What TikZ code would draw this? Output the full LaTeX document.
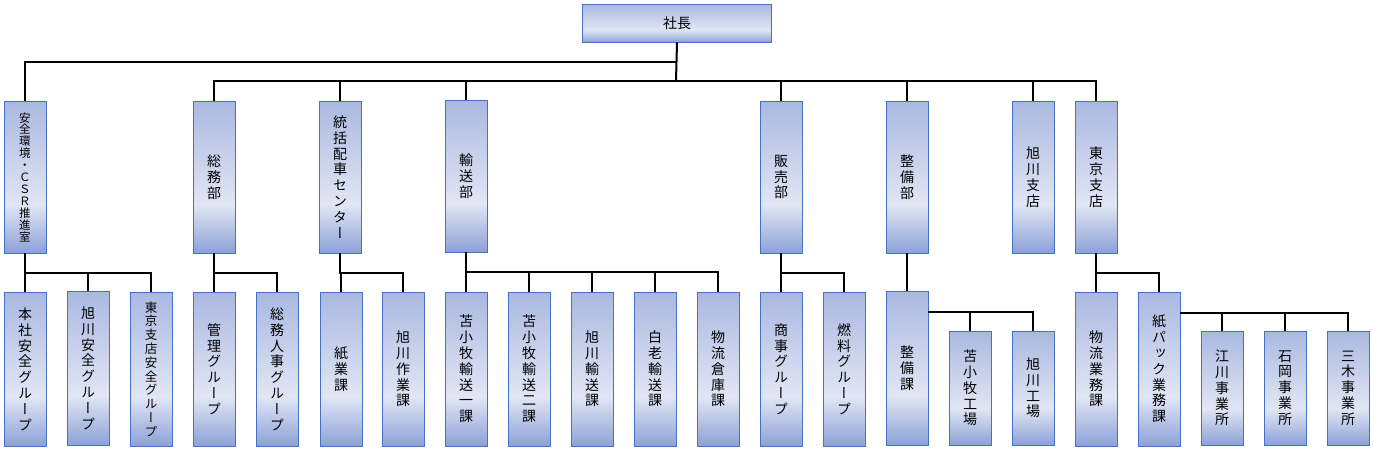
\documentclass[tikz,border=0pt]{standalone}
\usepackage{fontspec}
\newfontfamily\jp[RawFeature=+vert]{Noto Sans CJK JP}
\usetikzlibrary{calc}
\definecolor{bd}{HTML}{4472C4}
\definecolor{gtop}{HTML}{AAB8E1}
\definecolor{glight}{HTML}{E1E6F4}
\definecolor{gbot}{HTML}{8DA1D7}
\pgfdeclareverticalshading{boxfill}{100bp}{color(0bp)=(gbot); color(25bp)=(gbot); color(41bp)=(glight); color(75bp)=(gtop); color(100bp)=(gtop)}

\begin{document}
\begin{tikzpicture}
[x=1pt,y=-1pt,
b/.style={draw=bd,line width=0.9pt,shading=boxfill,inner sep=0pt,minimum width=42pt,align=center,font=\jp\fontsize{14}{15.8}\selectfont},
t/.style={b,minimum height=152pt},
u/.style={b,minimum height=154pt},
s/.style={b,minimum height=114pt},
l/.style={line width=2pt}]
\useasboundingbox (0,0) rectangle (1373,450);
% top
\node[b,minimum width=189pt,minimum height=38pt] (pres) at (677,23) {社長};
\coordinate (j1) at (676,62);
\coordinate (j2) at (676,81);
% first level
\node[t,font=\jp\fontsize{11.5}{11.9}\selectfont] (saf) at (25,177) {安\\全\\環\\境\\・\\Ｃ\\Ｓ\\Ｒ\\推\\進\\室};
\node[t] (soumu) at (214,177) {総\\務\\部};
\node[t] (haisha) at (340,177) {統\\括\\配\\車\\セ\\ン\\タ\\ー};
\node[t] (yuso) at (466,176) {輸\\送\\部};
\node[t] (hanbai) at (781,177) {販\\売\\部};
\node[t] (seibi) at (907,177) {整\\備\\部};
\node[t] (asahi) at (1033,177) {旭\\川\\支\\店};
\node[t] (tokyo) at (1096,177) {東\\京\\支\\店};
% second level
\node[u] (honsha) at (25,369) {本\\社\\安\\全\\グ\\ル\\ー\\プ};
\node[u] (asanzen) at (88,368) {旭\\川\\安\\全\\グ\\ル\\ー\\プ};
\node[u,font=\jp\fontsize{12.5}{13.8}\selectfont] (tokanzen) at (151,369) {東\\京\\支\\店\\安\\全\\グ\\ル\\ー\\プ};
\node[u] (kanri) at (214,369) {管\\理\\グ\\ル\\ー\\プ};
\node[u] (jinji) at (277,369) {総\\務\\人\\事\\グ\\ル\\ー\\プ};
\node[u] (shigyo) at (341,369) {紙\\業\\課};
\node[u] (sagyo) at (403,369) {旭\\川\\作\\業\\課};
\node[u] (tomaI) at (466,369) {苫\\小\\牧\\輸\\送\\一\\課};
\node[u] (tomaII) at (529,369) {苫\\小\\牧\\輸\\送\\二\\課};
\node[u] (asayuso) at (592,369) {旭\\川\\輸\\送\\課};
\node[u] (shiraoi) at (655,369) {白\\老\\輸\\送\\課};
\node[u] (soko) at (718,369) {物\\流\\倉\\庫\\課};
\node[u] (shoji) at (781,369) {商\\事\\グ\\ル\\ー\\プ};
\node[u] (nenryo) at (844,369) {燃\\料\\グ\\ル\\ー\\プ};
\node[u] (seibika) at (907,368) {整\\備\\課};
\node[u] (butsuryu) at (1096,369) {物\\流\\業\\務\\課};
\node[u] (pack) at (1159,369) {紙\\パ\\ッ\\ク\\業\\務\\課};
% third level
\node[s] (tomakoujo) at (970,388) {苫\\小\\牧\\工\\場};
\node[s] (asakoujo) at (1033,388) {旭\\川\\工\\場};
\node[s] (egawa) at (1222,388) {江\\川\\事\\業\\所};
\node[s] (ishioka) at (1285,388) {石\\岡\\事\\業\\所};
\node[s] (miki) at (1348,388) {三\\木\\事\\業\\所};
% lines
\draw[l] (pres.south) -- (j2);
\draw[l] (j1) -| (saf.north);
\foreach \n in {soumu,haisha,yuso,hanbai,seibi,asahi,tokyo}
  \draw[l] (j2) -| (\n.north);
\foreach \p/\c in {saf/honsha,saf/asanzen,saf/tokanzen,soumu/kanri,soumu/jinji,haisha/shigyo,haisha/sagyo,yuso/tomaI,yuso/tomaII,yuso/asayuso,yuso/shiraoi,yuso/soko,hanbai/shoji,hanbai/nenryo,seibi/seibika,tokyo/butsuryu,tokyo/pack}
  \draw[l] (\p.south) -- ($(\p.south)+(0,20)$) -| (\c.north);
\foreach \c in {tomakoujo,asakoujo}
  \draw[l] ([yshift=-21pt]seibika.north east) -| (\c.north);
\foreach \c in {egawa,ishioka,miki}
  \draw[l] ([yshift=-21pt]pack.north east) -| (\c.north);
\end{tikzpicture}
\end{document}
